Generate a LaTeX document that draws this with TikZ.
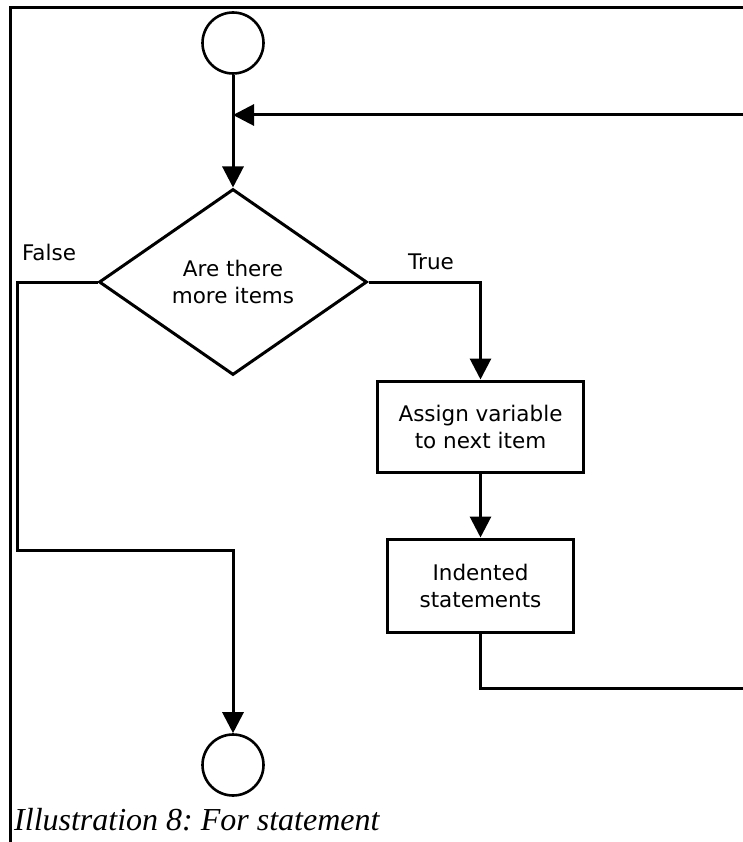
\documentclass[tikz,border=0pt]{standalone}
\usepackage{fontspec}
\setmainfont{Liberation Serif}
\newfontfamily\flowfont{DejaVu Sans}
\usetikzlibrary{arrows.meta,shapes.geometric}
\begin{document}
\frenchspacing
\begin{tikzpicture}[x=1pt,y=-1pt,
  conn/.style={line width=3pt},
  arr/.style={conn,-{Triangle[length=21pt,width=21pt]}},
  lbl/.style={font=\flowfont\fontsize{21.5}{27}\selectfont, align=center, inner sep=0pt},
  term/.style={circle, draw, line width=2.6pt, minimum size=61pt, inner sep=0pt},
  decision/.style={diamond, draw, line width=3pt, minimum width=268pt, minimum height=186pt, inner sep=0pt, lbl},
  procbox/.style={rectangle, draw, line width=3pt, inner sep=0pt, lbl},
  frameline/.style={line width=2.2pt}]
\useasboundingbox (0,0) rectangle (743,842);
% frame
\coordinate (fbl) at (10.5,842);
\coordinate (ftl) at (10.5,7.5);
\coordinate (ftr) at (743,7.5);
\draw[frameline] (fbl) -- (ftl) -- (ftr);

% nodes
\node[term] (start) at (233,43) {};
\node[decision] (dec) at (233,282) {Are there\\more items};
\node[procbox, minimum width=206pt, minimum height=91pt] (assign) at (480.5,426.5) {Assign variable\\to next item};
\node[procbox, minimum width=186pt, minimum height=93pt] (body) at (480.5,585.5) {Indented\\statements};
\node[term] (stop) at (233,765) {};

% labels
\node[lbl] (truelbl) at (431,262) {True};
\node[lbl] (falselbl) at (49,252) {False};

% connectors
\coordinate (join) at (233,115);
\coordinate (retin) at (745,115);
\coordinate (loopend) at (745,688);
\coordinate (fcorner) at (17,282);
\coordinate (fjoin) at (233,550);

\draw[arr] (start) -- (dec);
\draw[arr] (retin) -- (join);
\draw[arr] (dec.east) -| (assign.north);
\draw[arr] (assign) -- (body);
\draw[conn] (body.south) |- (loopend);
\draw[arr] (dec.west) -- (fcorner) |- (fjoin) -- (stop);

% caption
\node[anchor=base west, inner sep=0pt, font=\itshape\fontsize{32}{36}\selectfont] (caption) at (14,830) {Illustration 8: For statement};
\end{tikzpicture}
\end{document}
